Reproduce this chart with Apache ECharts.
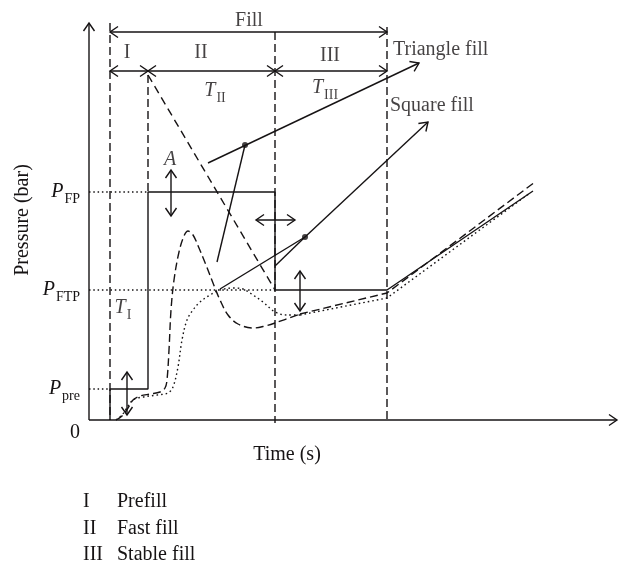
<!DOCTYPE html>
<html><head><meta charset="utf-8">
<script src="https://cdn.jsdelivr.net/npm/echarts@6/dist/echarts.min.js"></script>
<style>html,body{margin:0;padding:0;background:#fff}#c{width:625px;height:566px}</style>
</head><body><div id="c"></div>
<script>
// Schematic units (arbitrary): x = time, y = pressure
const pressureLevels = [31, 130, 228];            // Ppre, PFTP, PFP
const tickLabels = ['{p|P}{s|pre}', '{p|P}{s|FTP}', '{p|P}{s|FP}'];
const phaseX = [21, 59, 186, 298];                // fill start, end I, end II, end III

// square-fill pressure command (solid)
const squareCommand = [[21,0],[21,31],[59,31],[59,228],[186,228],[186,130],[298,130],[444,229]];
// triangle-fill pressure command (dashed diagonal)
const triangleCommand = [[59,345],[186,130]];
// triangle-fill response (dashed)
const triangleResponseCurve = [[27,0],[33,4],[39,12],[44,20],[51,24],[61,26],[71,28],[76,32],[78,40],[80,70],[82,110],[85,140],[90,168],[95,184],[99,189],[104,185],[110,172],[117,155],[124,137],[131,120],[139,105],[149,96],[164,92],[176,94],[186,97],[211,106]];
const triangleResponseRamp = [[211,106],[298,127],[446,238]];
// square-fill response (dotted)
const squareResponseCurve = [[27,0],[33,5],[44,20],[54,23],[68,25],[79,27],[84,33],[89,53],[93,80],[98,100],[104,110],[111,118],[121,125],[131,130],[144,132],[154,131],[164,125],[174,118],[186,108],[198,105],[211,105]];
const squareResponseRamp = [[211,105],[298,122],[441,227]];

// arrows: [x1,y1,x2,y2,heads] heads 1 = end only, 2 = both ends
const arrows = [
  [0,0,0,397,1], [0,0,528,0,1],
  [21,388,298,388,2],
  [21,349,59,349,2], [59,349,186,349,2], [186,349,298,349,2],
  [82,250,82,204,2], [167,200,206,200,2], [211,149,211,109,2], [38,48,38,5,2],
  [119,257,330,357,1], [216,183,339,298,1]
];
const pointerLines = [[156,275,128,158],[216,183,131,131],[216,183,186,154]];
const pointerDots = [[156,275],[216,183]];
const dashedGuides = [[21,397,21,0],[59,345,59,228],[186,388,186,-3],[298,393,298,0]];
const dottedGuides = [[0,228,59,228],[0,130,186,130],[0,31,21,31]];

// annotations: [x, y, text, align]
const annotations = [
  [160,399,'Fill','center'],
  [38,367,'{r|I}','center'], [112,367,'{r|II}','center'], [241,364,'{r|III}','center'],
  [126,329,'{t|T}{s|II}','center'], [236,332,'{t|T}{s|III}','center'],
  [34,112,'{t|T}{s|I}','center'], [81,260,'{t|A}','center'],
  [304,370,'Triangle fill','left'], [301,314,'Square fill','left']
];
const legendNumerals = ['I','II','III'];
const legendNames = ['Prefill','Fast fill','Stable fill'];

const INK = '#161314';
const LW = 1.4;
const FONT = '"Liberation Serif","DejaVu Serif",serif';
const rich = {
  p: {fontFamily: FONT, fontStyle: 'italic', fontSize: 20, lineHeight: 22, color: INK},
  t: {fontFamily: FONT, fontStyle: 'italic', fontSize: 20, lineHeight: 22, color: INK},
  r: {fontFamily: FONT, fontSize: 20, lineHeight: 22, color: INK},
  s: {fontFamily: FONT, fontSize: 14, lineHeight: 14, verticalAlign: 'top', padding: [11,0,0,1], color: INK}
};

function segRenderer(dash) {
  return function (params, api) {
    const a = api.coord([api.value(0), api.value(1)]);
    const b = api.coord([api.value(2), api.value(3)]);
    return {type: 'line', shape: {x1: a[0], y1: a[1], x2: b[0], y2: b[1]},
      style: {stroke: INK, lineWidth: LW, lineDash: dash, fill: null}};
  };
}
function arrowRenderer(params, api) {
  const a = api.coord([api.value(0), api.value(1)]);
  const b = api.coord([api.value(2), api.value(3)]);
  const both = api.value(4) === 2;
  const dx = b[0] - a[0], dy = b[1] - a[1];
  const len = Math.hypot(dx, dy), ux = dx / len, uy = dy / len;
  const L = 8, W = 5.5;
  function head(tip, vx, vy) {
    return [[tip[0] - vx * L - vy * W, tip[1] - vy * L + vx * W], [tip[0], tip[1]],
            [tip[0] - vx * L + vy * W, tip[1] - vy * L - vx * W]];
  }
  const st = {stroke: INK, lineWidth: LW, fill: null};
  const children = [
    {type: 'line', shape: {x1: a[0], y1: a[1], x2: b[0], y2: b[1]}, style: st},
    {type: 'polyline', shape: {points: head(b, ux, uy)}, style: st}
  ];
  if (both) children.push({type: 'polyline', shape: {points: head(a, -ux, -uy)}, style: st});
  return {type: 'group', children: children};
}

const chart = echarts.init(document.getElementById('c'), null, {renderer: 'canvas'});
const legendGraphics = [];
legendNumerals.forEach(function (n, i) {
  legendGraphics.push({type: 'text', x: 83, y: 502 + i * 26.5,
    style: {text: n, font: '20px ' + FONT, fill: INK, verticalAlign: 'middle', align: 'left'}});
  legendGraphics.push({type: 'text', x: 117, y: 502 + i * 26.5,
    style: {text: legendNames[i], font: '20px ' + FONT, fill: INK, verticalAlign: 'middle', align: 'left'}});
});

chart.setOption({
  animation: false,
  backgroundColor: '#fff',
  grid: {left: 0, right: 0, top: 0, bottom: 0, containLabel: false, outerBoundsMode: 'none'},
  xAxis: {type: 'value', min: -89, max: 536, axisLine: {show: false, onZero: false},
    axisTick: {show: false}, axisLabel: {show: false}, splitLine: {show: false}},
  yAxis: {type: 'value', min: -146, max: 420, position: 'left', offset: -89,
    axisLine: {show: false, onZero: false},
    axisTick: {show: false}, splitLine: {show: false},
    axisLabel: {show: true, customValues: pressureLevels, margin: 9, rich: rich,
      formatter: function (v) { const i = pressureLevels.indexOf(v); return i >= 0 ? tickLabels[i] : ''; }}},
  graphic: [
    {type: 'text', x: 287, y: 455, style: {text: 'Time (s)', font: '20px ' + FONT, fill: INK, align: 'center', verticalAlign: 'middle'}},
    {type: 'text', x: 23, y: 220, rotation: Math.PI / 2, style: {text: 'Pressure (bar)', font: '20px ' + FONT, fill: INK, align: 'center', verticalAlign: 'middle'}},
    {type: 'text', x: 75, y: 433, style: {text: '0', font: '20px ' + FONT, fill: INK, align: 'center', verticalAlign: 'middle'}}
  ].concat(legendGraphics),
  series: [
    {type: 'custom', renderItem: segRenderer([1.5, 2.8]), data: dottedGuides, silent: true},
    {type: 'custom', renderItem: segRenderer([8, 4]), data: dashedGuides, silent: true},
    {type: 'custom', renderItem: segRenderer([8, 5]), data: [[triangleCommand[0][0], triangleCommand[0][1], triangleCommand[1][0], triangleCommand[1][1]]], silent: true},
    {type: 'custom', renderItem: segRenderer(null), data: pointerLines, silent: true},
    {type: 'custom', renderItem: arrowRenderer, data: arrows, silent: true},
    {type: 'line', data: squareCommand, symbol: 'none', lineStyle: {color: INK, width: LW}},
    {type: 'line', data: triangleResponseCurve, symbol: 'none', smooth: 0.35, lineStyle: {color: INK, width: LW, type: [8, 4]}},
    {type: 'line', data: triangleResponseRamp, symbol: 'none', lineStyle: {color: INK, width: LW, type: [8, 4]}},
    {type: 'line', data: squareResponseCurve, symbol: 'none', smooth: 0.35, lineStyle: {color: INK, width: LW, type: [1.6, 3]}},
    {type: 'line', data: squareResponseRamp, symbol: 'none', lineStyle: {color: INK, width: LW, type: [1.6, 3]}},
    {type: 'scatter', data: pointerDots, symbolSize: 6, itemStyle: {color: INK}, silent: true},
    {type: 'scatter', symbolSize: 1, itemStyle: {color: 'rgba(0,0,0,0)'}, silent: true, clip: false,
      data: annotations.map(function (a) {
        return {value: [a[0], a[1]], label: {show: true, position: 'inside', align: a[3], formatter: a[2],
          fontFamily: FONT, fontSize: 20, color: INK, rich: rich}};
      })}
  ]
});
</script></body></html>
